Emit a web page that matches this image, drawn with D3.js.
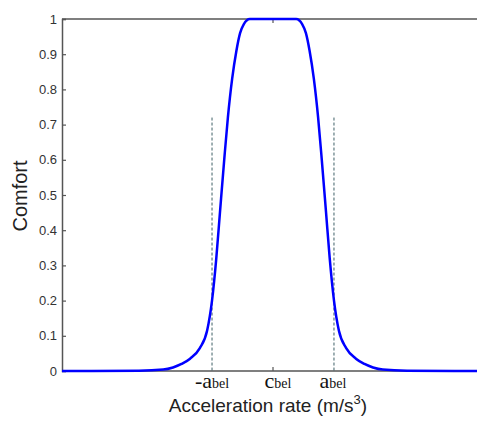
<!DOCTYPE html>
<html lang="en">
<head>
<meta charset="utf-8">
<title>Comfort vs acceleration rate</title>
<style>
  body { margin: 0; background: #fff; }
  svg { display: block; }
</style>
</head>
<body>
<script src="https://cdnjs.cloudflare.com/ajax/libs/d3/7.8.5/d3.min.js"></script>
<script>
// x in units of a_bel, centred on c_bel
const accel = [-3.46, -2.2, -1.8, -1.64, -1.5, -1.36, -1.2, -1.08, -1.0, -0.93, -0.87, -0.8, -0.74, -0.67, -0.6, -0.54, -0.48, -0.38,
  0, 0.38, 0.48, 0.54, 0.6, 0.67, 0.74, 0.8, 0.87, 0.93, 1.0, 1.08, 1.2, 1.36, 1.5, 1.64, 1.8, 2.2, 3.46];
const comfort = [0, 0.001, 0.004, 0.01, 0.02, 0.035, 0.065, 0.115, 0.2, 0.32, 0.45, 0.6, 0.72, 0.83, 0.91, 0.96, 0.985, 1.0,
  1.0, 1.0, 0.985, 0.96, 0.91, 0.83, 0.72, 0.6, 0.45, 0.32, 0.2, 0.115, 0.065, 0.035, 0.02, 0.01, 0.004, 0.001, 0];
const yTicks = [0, 0.1, 0.2, 0.3, 0.4, 0.5, 0.6, 0.7, 0.8, 0.9, 1];
const xTickVals = [-1, 0, 1];
const xTickMain = ["-a", "c", "a"];
const xTickSub = ["bel", "bel", "bel"];
const guideX = [-1, 1];
const guideTop = 0.72;

const width = 477, height = 421;
const mLeft = 62, mTop = 19, plotH = 352;

const svg = d3.select("body").append("svg")
  .attr("width", width)
  .attr("height", height);

const x = d3.scaleLinear().domain([-3.46, 3.46]).range([mLeft, 484]);
const y = d3.scaleLinear().domain([0, 1]).range([mTop + plotH, mTop]);

// frame
svg.append("line")
  .attr("x1", mLeft).attr("x2", width).attr("y1", mTop).attr("y2", mTop)
  .attr("stroke", "#555").attr("stroke-width", 1.5);
svg.append("line")
  .attr("x1", mLeft).attr("x2", width).attr("y1", y(0)).attr("y2", y(0))
  .attr("stroke", "#555").attr("stroke-width", 1.5);

// y axis, ticks pointing inward
const yAxis = svg.append("g")
  .attr("transform", `translate(${mLeft},0)`)
  .call(d3.axisRight(y).tickValues(yTicks).tickSize(4).tickFormat(d3.format("")));
yAxis.select(".domain").attr("stroke", "#555").attr("stroke-width", 1.5);
yAxis.selectAll(".tick line").attr("stroke", "#555").attr("stroke-width", 1.2);
yAxis.selectAll(".tick text")
  .attr("x", -5)
  .attr("text-anchor", "end")
  .attr("fill", "#333")
  .style("font-family", "Liberation Sans, Arial, sans-serif")
  .style("font-size", "13px");

// x ticks at c only (inward, top and bottom)
svg.append("line")
  .attr("x1", x(0)).attr("x2", x(0)).attr("y1", y(0)).attr("y2", y(0) - 4)
  .attr("stroke", "#555").attr("stroke-width", 1.2);
svg.append("line")
  .attr("x1", x(0)).attr("x2", x(0)).attr("y1", mTop).attr("y2", mTop + 4)
  .attr("stroke", "#555").attr("stroke-width", 1.2);

// dashed guides at -a and a
svg.selectAll(".guide")
  .data(guideX)
  .enter()
  .append("line")
  .attr("class", "guide")
  .attr("x1", d => x(d)).attr("x2", d => x(d))
  .attr("y1", y(guideTop)).attr("y2", y(0))
  .attr("stroke", "#3e5f66")
  .attr("stroke-width", 1)
  .attr("stroke-dasharray", "3,2");

// curve
const line = d3.line()
  .x((d, i) => x(accel[i]))
  .y(d => y(d))
  .curve(d3.curveMonotoneX);

svg.append("path")
  .datum(comfort)
  .attr("d", line)
  .attr("fill", "none")
  .attr("stroke", "#0000ff")
  .attr("stroke-width", 2.5);

// x tick labels
const offs = [0, 5, -1];
const lbl = svg.selectAll(".xlbl")
  .data(xTickVals)
  .enter()
  .append("text")
  .attr("class", "xlbl")
  .attr("x", (d, i) => x(d) + offs[i])
  .attr("y", 388)
  .attr("text-anchor", "middle")
  .attr("fill", "#111")
  .style("font-family", "Liberation Serif, Times New Roman, serif");
lbl.append("tspan")
  .style("font-size", "22px")
  .text((d, i) => xTickMain[i]);
lbl.append("tspan")
  .style("font-size", "14px")
  .text((d, i) => xTickSub[i]);

// axis titles
const xt = svg.append("text")
  .attr("x", 268)
  .attr("y", 412)
  .attr("text-anchor", "middle")
  .attr("fill", "#222")
  .style("font-family", "Liberation Sans, Arial, sans-serif")
  .style("font-size", "19px");
xt.append("tspan").text("Acceleration rate (m/s");
xt.append("tspan").attr("dy", -8).style("font-size", "13px").text("3");
xt.append("tspan").attr("dy", 8).text(")");

svg.append("text")
  .attr("transform", "translate(27,196) rotate(-90)")
  .attr("text-anchor", "middle")
  .attr("fill", "#222")
  .style("font-family", "Liberation Sans, Arial, sans-serif")
  .style("font-size", "20px")
  .text("Comfort");
</script>
</body>
</html>
